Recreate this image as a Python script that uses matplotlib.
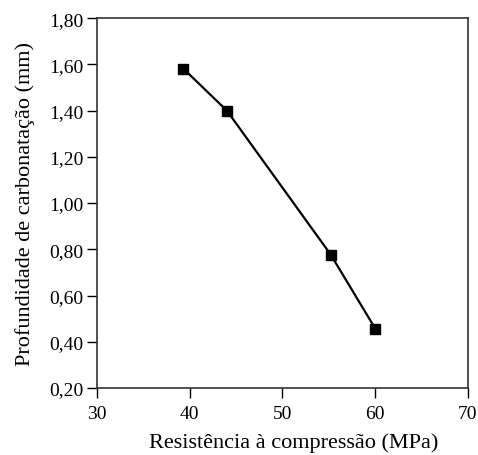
import matplotlib
matplotlib.use("Agg")
import matplotlib.pyplot as plt
from matplotlib.ticker import FuncFormatter

resistencia = [39.3, 44.0, 55.2, 60.0]
profundidade = [1.582, 1.40, 0.777, 0.457]
x_ticks = [30, 40, 50, 60, 70]
y_ticks = [0.20, 0.40, 0.60, 0.80, 1.00, 1.20, 1.40, 1.60, 1.80]

plt.rcParams['font.family'] = ['Liberation Serif', 'DejaVu Serif']

fig = plt.figure(figsize=(4.78, 4.56), dpi=100)
ax = fig.add_axes([0.203, 0.147, 0.776, 0.811])
ax.plot(resistencia, profundidade, color='black', lw=1.6, marker='s', ms=7.5)
ax.set_xlim(30, 70)
ax.set_ylim(0.20, 1.80)
ax.set_xticks(x_ticks)
ax.set_yticks(y_ticks)
ax.yaxis.set_major_formatter(FuncFormatter(lambda v, p: f"{v:.2f}".replace('.', ',')))
ax.tick_params(direction='out', length=7, width=1, labelsize=14, colors='black')
ax.tick_params(axis='y', pad=3)
ax.tick_params(axis='x', pad=5)
for s in ax.spines.values():
    s.set_linewidth(1.2)
    s.set_color('#333333')
ax.set_xlabel('Resistência à compressão (MPa)', fontsize=16, labelpad=8)
ax.xaxis.label.set_x(0.53)
ax.set_ylabel('Profundidade de carbonatação (mm)', fontsize=16, labelpad=10)
fig.savefig('out.png', dpi=100)
